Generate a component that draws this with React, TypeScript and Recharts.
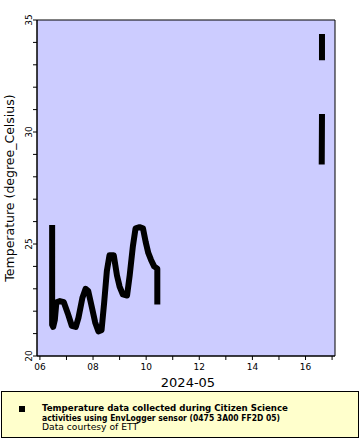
import React from 'react';
import { LineChart, Line, XAxis, YAxis, CartesianGrid, ReferenceArea } from 'recharts';

// days of May 2024 (fractional) and logged temperatures, null = gap in logging
const DAYS = [
  6.46, 6.46, 6.5, 6.56, 6.62, 6.75, 6.9, 7.05, 7.2, 7.35, 7.45, 7.6, 7.72, 7.82, 7.95,
  8.08, 8.2, 8.32, 8.42, 8.52, 8.62, 8.78, 8.9, 9.0, 9.12, 9.28, 9.38, 9.5, 9.6, 9.75,
  9.88, 9.98, 10.08, 10.18, 10.3, 10.42, 10.42,
  13.5,
  16.61, 16.62, 16.62, 16.62, 16.62,
];
const TEMPS = [
  25.85, 21.4, 21.3, 21.6, 22.4, 22.45, 22.4, 21.9, 21.35, 21.3, 21.7, 22.6, 23.0, 22.9, 22.2,
  21.5, 21.1, 21.15, 22.4, 23.8, 24.5, 24.5, 23.6, 23.1, 22.75, 22.7, 23.6, 24.9, 25.7, 25.75,
  25.7, 25.1, 24.6, 24.3, 24.0, 23.9, 22.3,
  null,
  28.55, 30.8, null, 33.2, 34.38,
];

const X_TICKS = [6, 7, 8, 9, 10, 11, 12, 13, 14, 15, 16, 17];
const Y_TICKS = [20, 21, 22, 23, 24, 25, 26, 27, 28, 29, 30, 31, 32, 33, 34, 35];
const X_DOMAIN = [5.89, 17.11];
const Y_DOMAIN = [20, 35];

const LEGEND_LINES = [
  'Temperature data collected during Citizen Science',
  'activities using EnvLogger sensor (0475 3A00 FF2D 05)',
  'Data courtesy of ETT',
];

const FONT = '"DejaVu Sans", sans-serif';

const data = DAYS.map((day, i) => ({ day, temp: TEMPS[i] }));

const XTick = (props: any) => {
  const { x, y, payload } = props;
  if (payload.value % 2 !== 0) return <g />;
  return (
    <text x={x} y={y + 10} textAnchor="middle" fontSize={9} fontFamily={FONT} fill="#000">
      {String(payload.value).padStart(2, '0')}
    </text>
  );
};

const YTick = (props: any) => {
  const { x, y, payload } = props;
  if (payload.value % 5 !== 0) return <g />;
  return (
    <text
      x={x}
      y={y}
      transform={`rotate(-90 ${x} ${y})`}
      textAnchor="middle"
      fontSize={9}
      fontFamily={FONT}
      fill="#000"
    >
      {payload.value}
    </text>
  );
};

export default function App() {
  return (
    <div style={{ position: 'absolute', left: 0, top: 0, width: 360, height: 440, background: '#fff' }}>
      <LineChart width={360} height={440} data={data} margin={{ top: 20, right: 25, left: 0, bottom: 54 }}>
        <CartesianGrid horizontal={false} vertical={false} fill="#ccccff" fillOpacity={1} />
        <XAxis
          dataKey="day"
          type="number"
          domain={X_DOMAIN}
          ticks={X_TICKS}
          interval={0}
          height={30}
          tickSize={4}
          tickMargin={0}
          stroke="#000"
          tick={<XTick />}
          allowDataOverflow
          label={{
            content: () => (
              <text x={188} y={387} textAnchor="middle" fontSize={13} fontFamily={FONT} fill="#000">
                2024-05
              </text>
            ),
          }}
        />
        <YAxis
          type="number"
          domain={Y_DOMAIN}
          ticks={Y_TICKS}
          interval={0}
          width={37}
          tickSize={4}
          tickMargin={1}
          stroke="#000"
          tick={<YTick />}
          allowDataOverflow
          label={{
            content: () => (
              <text
                x={14}
                y={188}
                transform="rotate(-90 14 188)"
                textAnchor="middle"
                fontSize={12.5}
                fontFamily={FONT}
                fill="#000"
              >
                Temperature (degree_Celsius)
              </text>
            ),
          }}
        />
        <ReferenceArea
          x1={X_DOMAIN[0]}
          x2={X_DOMAIN[1]}
          y1={Y_DOMAIN[0]}
          y2={Y_DOMAIN[1]}
          fill="none"
          stroke="#000"
          strokeWidth={1}
        />
        <Line
          type="linear"
          dataKey="temp"
          stroke="#000"
          strokeWidth={6}
          strokeLinejoin="round"
          dot={false}
          activeDot={false}
          connectNulls={false}
          isAnimationActive={false}
        />
      </LineChart>
      <svg width={360} height={440} style={{ position: 'absolute', left: 0, top: 0, pointerEvents: 'none' }}>
        <rect x={1.5} y={391.5} width={357} height={46} fill="#ffffcc" stroke="#000" strokeWidth={1} />
        <rect x={19} y={406} width={6} height={6} fill="#000" />
        <text x={42} y={411} fontSize={8.5} fontWeight="bold" fontFamily={FONT} textLength={246} lengthAdjust="spacingAndGlyphs">
          {LEGEND_LINES[0]}
        </text>
        <text x={42} y={420.5} fontSize={8.5} fontWeight="bold" fontFamily={FONT} textLength={238} lengthAdjust="spacingAndGlyphs">
          {LEGEND_LINES[1]}
        </text>
        <text x={42} y={430} fontSize={8.5} fontFamily={FONT} textLength={96} lengthAdjust="spacingAndGlyphs">
          {LEGEND_LINES[2]}
        </text>
      </svg>
    </div>
  );
}
